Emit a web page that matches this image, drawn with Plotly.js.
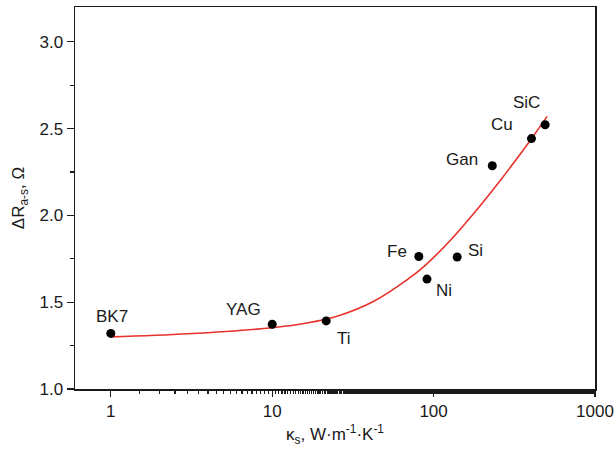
<!DOCTYPE html>
<html>
<head>
<meta charset="utf-8">
<script src="https://cdn.plot.ly/plotly-3.0.1.min.js"></script>
<style>html,body{margin:0;padding:0;background:#fff;}#chart{width:614px;height:456px;}</style>
</head>
<body>
<div id="chart"></div>
<script>
// Measured materials
const materials = ["BK7", "YAG", "Ti", "Fe", "Ni", "Si", "Gan", "Cu", "SiC"];
const kappa = [1, 10, 21.6, 81, 91, 140, 231, 404, 491];
const deltaR = [1.32, 1.373, 1.392, 1.763, 1.633, 1.76, 2.286, 2.442, 2.522];

// Fitted curve, points
const fitKappa = [1, 3, 10, 16.4, 26.4, 42.6, 68.7, 87, 128, 196, 261, 400, 505];
const fitDeltaR = [1.30, 1.318, 1.353, 1.38, 1.425, 1.505, 1.63, 1.705, 1.86, 2.06, 2.205, 2.436, 2.57];

// Axis ticks
const yTicks = [1.0, 1.5, 2.0, 2.5, 3.0];
const yTickText = ["1.0", "1.5", "2.0", "2.5", "3.0"];
const xTicks = [1, 10, 100, 1000];
const xTickText = ["1", "10", "100", "1000"];

// label placement (pixel shifts), layout only
const labelShift = [[1, 17], [-29, 15], [18, -18], [-22, 5], [17, -11], [18, 7], [-30, 6], [-29, 14], [-19, 22]];

const fontFam = "Liberation Sans, Arial, sans-serif";
const ink = "#1a1a1a";
const fs = 17;

const traces = [
  {
    x: fitKappa, y: fitDeltaR, type: "scatter", mode: "lines",
    line: {color: "#e8322b", width: 1.6, shape: "spline", smoothing: 1},
    hoverinfo: "skip", showlegend: false
  },
  {
    x: kappa, y: deltaR, type: "scatter", mode: "markers",
    marker: {color: "#000", size: 9},
    showlegend: false
  }
];

const annotations = materials.map((m, i) => ({
  x: Math.log10(kappa[i]), y: deltaR[i], xref: "x", yref: "y",
  text: m, showarrow: false,
  xshift: labelShift[i][0], yshift: labelShift[i][1],
  font: {family: fontFam, size: fs, color: ink}
}));

const layout = {
  width: 614, height: 456,
  margin: {l: 75, r: 19, t: 7, b: 67},
  paper_bgcolor: "#fff", plot_bgcolor: "#fff",
  font: {family: fontFam, color: ink},
  xaxis: {
    type: "log", range: [Math.log10(0.6), 3],
    tickvals: xTicks, ticktext: xTickText,
    ticks: "outside", ticklen: 6, tickwidth: 1.3, tickcolor: ink,
    minor: {ticks: "outside", ticklen: 3, tickwidth: 1.2, tickcolor: ink, showgrid: false},
    showline: true, linecolor: ink, linewidth: 1.5, mirror: true,
    showgrid: false, zeroline: false,
    tickfont: {family: fontFam, size: fs, color: ink},
    title: {text: "κ<sub>s</sub>, W·m<sup>-1</sup>·K<sup>-1</sup>", font: {family: fontFam, size: fs, color: ink}, standoff: 8}
  },
  yaxis: {
    range: [1.0, 3.2],
    tickvals: yTicks, ticktext: yTickText,
    ticks: "outside", ticklen: 7, tickwidth: 1.3, tickcolor: ink,
    minor: {ticks: "outside", ticklen: 4, tickwidth: 1.2, tickcolor: ink, dtick: 0.25, showgrid: false},
    showline: true, linecolor: ink, linewidth: 1.5, mirror: true,
    showgrid: false, zeroline: false,
    tickfont: {family: fontFam, size: fs, color: ink},
    title: {text: "ΔR<sub>a-s</sub>, Ω", font: {family: fontFam, size: fs, color: ink}, standoff: 10}
  },
  annotations: annotations
};

Plotly.newPlot("chart", traces, layout, {staticPlot: true, displayModeBar: false});
</script>
</body>
</html>
